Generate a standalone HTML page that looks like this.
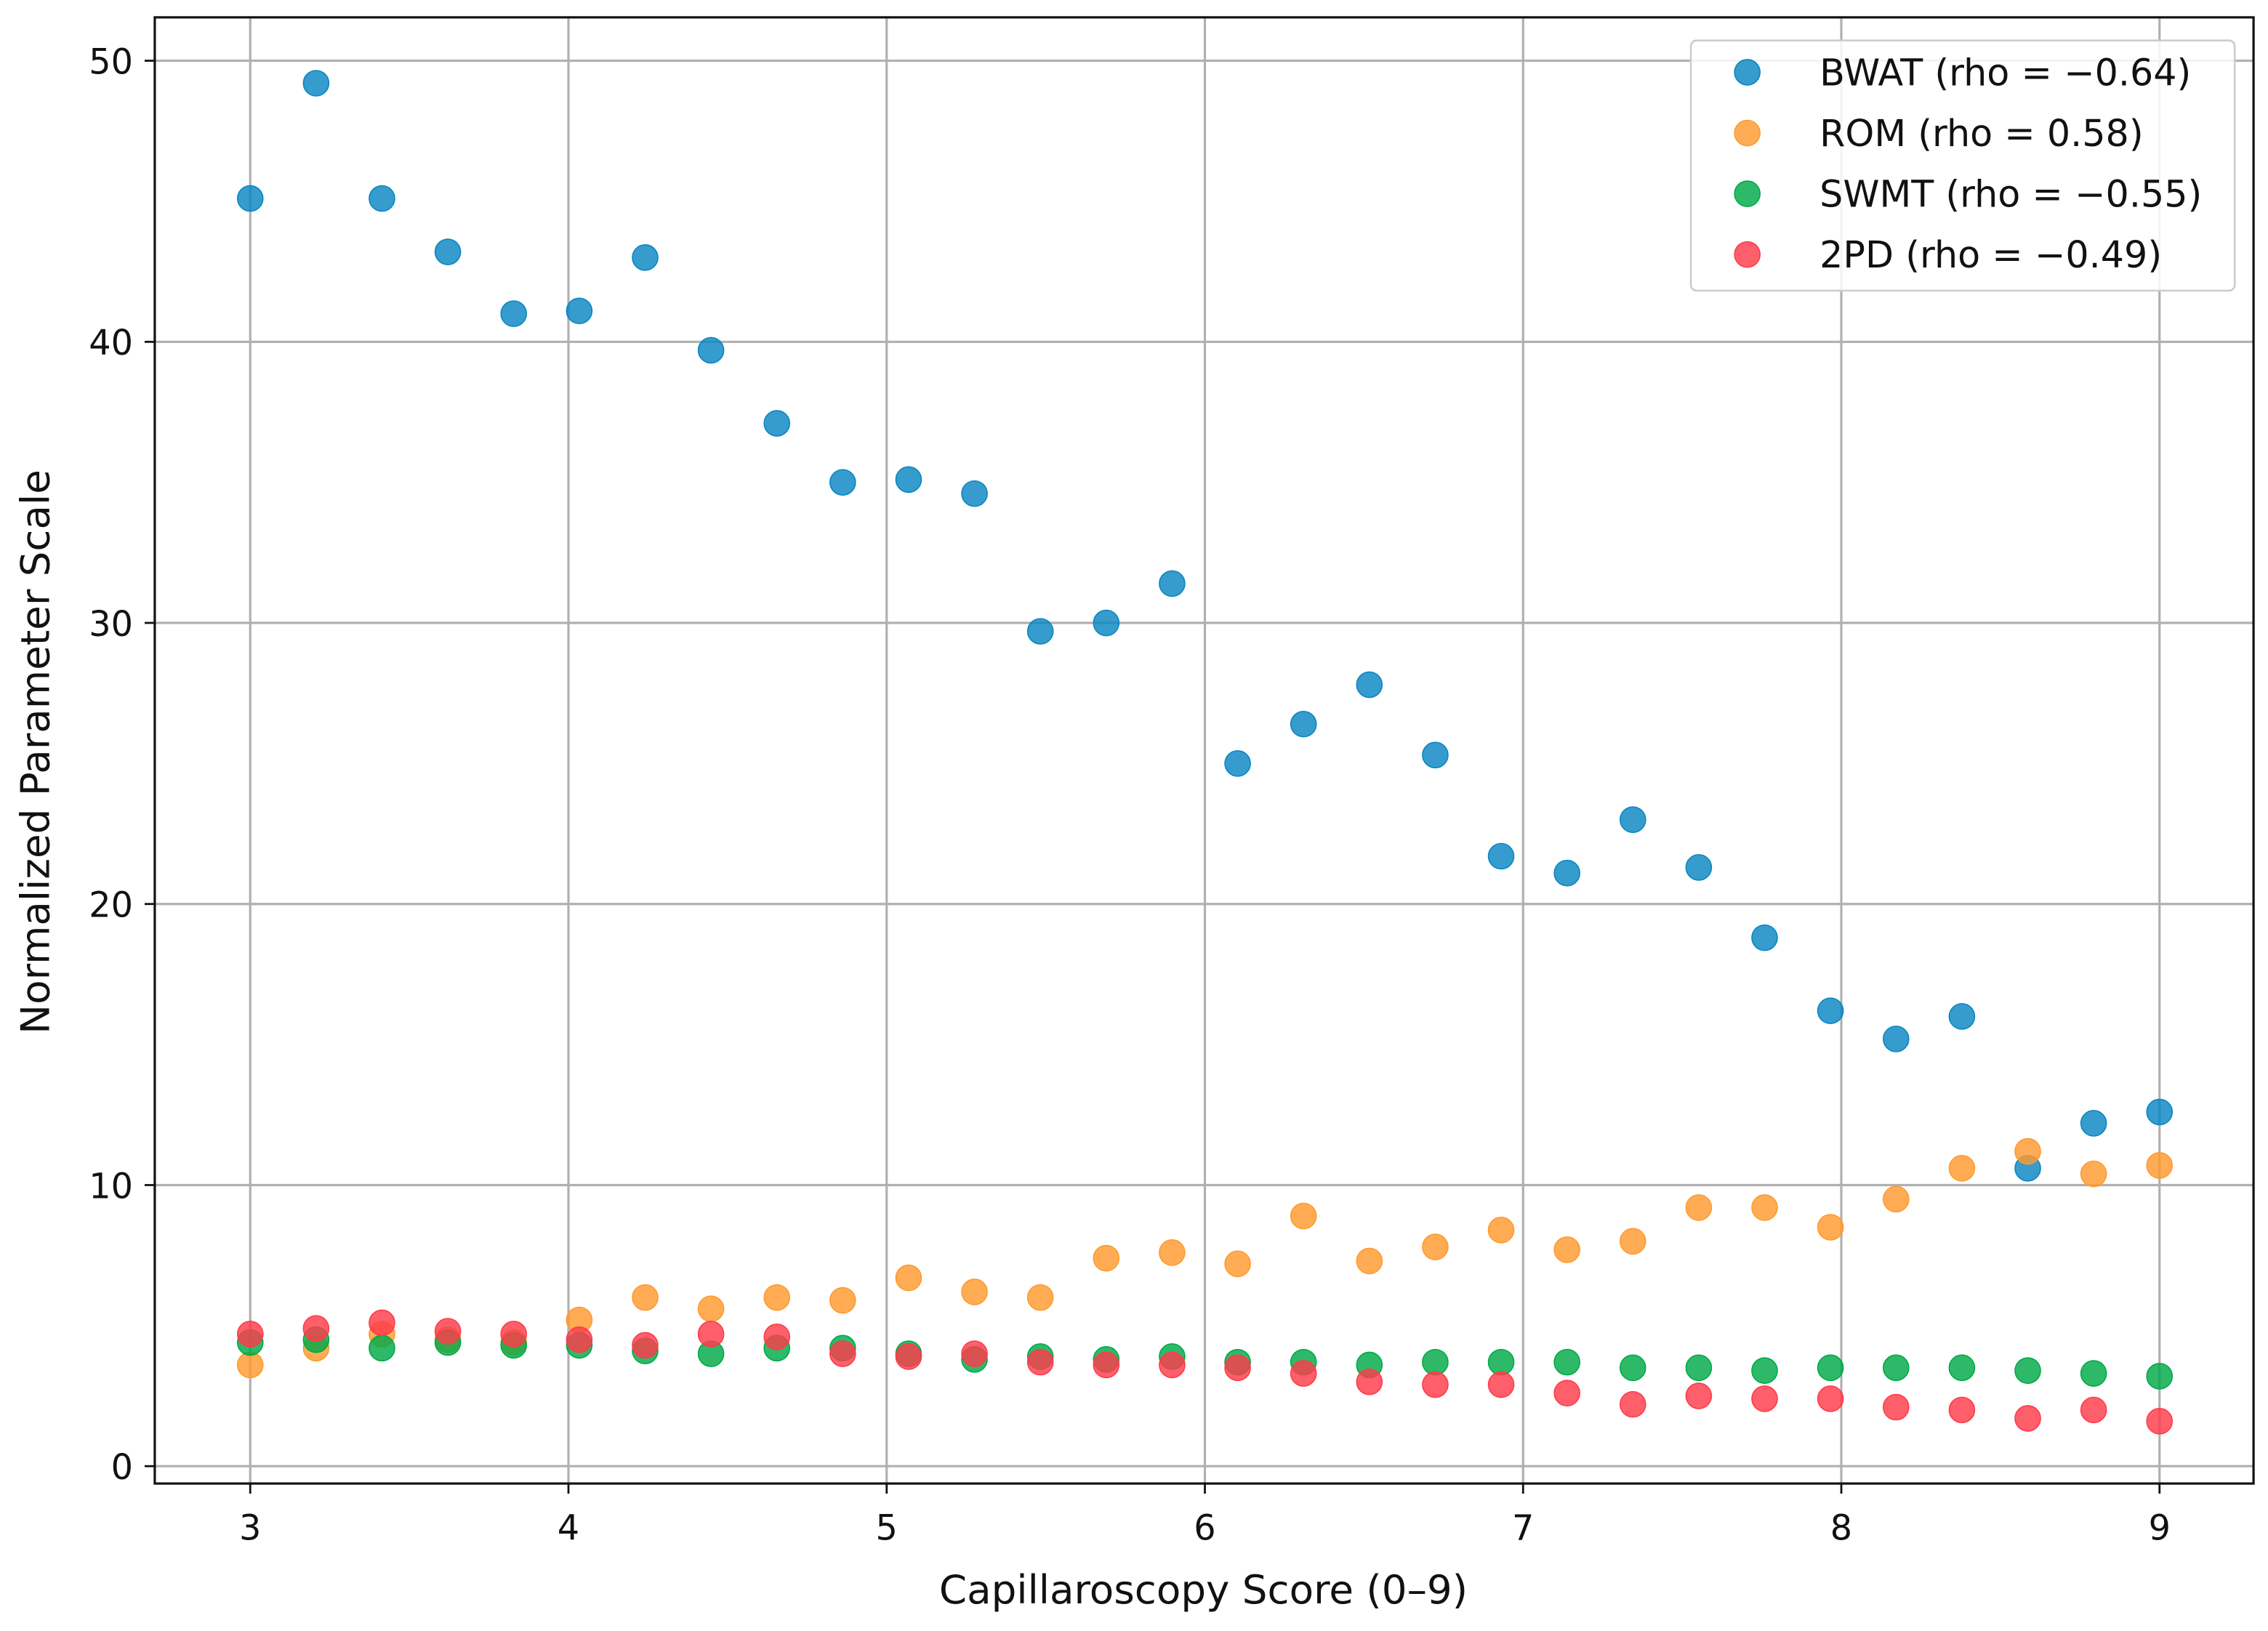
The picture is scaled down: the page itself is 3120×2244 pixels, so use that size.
<!DOCTYPE html>
<html><head><meta charset="utf-8"><style>
html,body{margin:0;padding:0;background:#fff}
svg{display:block}
text{font-family:"DejaVu Sans","Liberation Sans",sans-serif;fill:#111}
</style></head><body>
<svg id="chart" width="3120" height="2244" viewBox="0 0 1568 1128" preserveAspectRatio="none" xmlns="http://www.w3.org/2000/svg">
<rect x="0" y="0" width="1568" height="1128" fill="#fff"/>
<g id="grid"></g>
<g id="marks"></g>
<rect x="107" y="12" width="1451" height="1014" fill="none" stroke="#111" stroke-width="1.6"/>
<g id="ticks"></g>
<text x="832" y="1109" font-size="27.5" text-anchor="middle">Capillaroscopy Score (0–9)</text>
<text transform="translate(34,520) rotate(-90)" font-size="27.5" text-anchor="middle">Normalized Parameter Scale</text>
<g id="legend">
<rect x="1169" y="28" width="376" height="173" rx="4" fill="#fff" fill-opacity="0.85" stroke="#ccc" stroke-width="1.3"/>
</g>
</svg>
<script>
const xVals=[3.000,3.207,3.414,3.621,3.828,4.034,4.241,4.448,4.655,4.862,5.069,5.276,5.483,5.690,5.897,6.103,6.310,6.517,6.724,6.931,7.138,7.345,7.552,7.759,7.966,8.172,8.379,8.586,8.793,9.000];
const bwat=[45.1,49.2,45.1,43.2,41.0,41.1,43.0,39.7,37.1,35.0,35.1,34.6,29.7,30.0,31.4,25.0,26.4,27.8,25.3,21.7,21.1,23.0,21.3,18.8,16.2,15.2,16.0,10.6,12.2,12.6];
const rom=[3.6,4.2,4.7,4.5,4.4,5.2,6.0,5.6,6.0,5.9,6.7,6.2,6.0,7.4,7.6,7.2,8.9,7.3,7.8,8.4,7.7,8.0,9.2,9.2,8.5,9.5,10.6,11.2,10.4,10.7];
const swmt=[4.4,4.5,4.2,4.4,4.3,4.3,4.1,4.0,4.2,4.2,4.0,3.8,3.9,3.8,3.9,3.7,3.7,3.6,3.7,3.7,3.7,3.5,3.5,3.4,3.5,3.5,3.5,3.4,3.3,3.2];
const tpd=[4.7,4.9,5.1,4.8,4.7,4.5,4.3,4.7,4.6,4.0,3.9,4.0,3.7,3.6,3.6,3.5,3.3,3.0,2.9,2.9,2.6,2.2,2.5,2.4,2.4,2.1,2.0,1.7,2.0,1.6];
const xTicks=[3,4,5,6,7,8,9];
const yTicks=[0,10,20,30,40,50];
const seriesNames=["BWAT (rho = −0.64)","ROM (rho = 0.58)","SWMT (rho = −0.55)","2PD (rho = −0.49)"];
const NS="http://www.w3.org/2000/svg";
function xs(v){return 173+(v-3)*220;}
function ys(v){return 1014-v*19.44;}
function mk(tag,attrs,parent){const e=document.createElementNS(NS,tag);for(const k in attrs)e.setAttribute(k,attrs[k]);parent.appendChild(e);return e;}
const grid=document.getElementById('grid'),ticks=document.getElementById('ticks'),marks=document.getElementById('marks'),legend=document.getElementById('legend');
xTicks.forEach(t=>{
 const l=mk('line',{x1:xs(t),x2:xs(t),y1:12,y2:1026,stroke:'#b0b0b0','stroke-width':1.6},grid);
 
 
 mk('line',{x1:xs(t),x2:xs(t),y1:1026,y2:1033,stroke:'#111','stroke-width':1.4},ticks);
 const tx=mk('text',{x:xs(t),y:1065,'font-size':24,'text-anchor':'middle'},ticks);tx.textContent=t;
 
 
});
yTicks.forEach(t=>{
 const l=mk('line',{x1:107,x2:1558,y1:ys(t),y2:ys(t),stroke:'#b0b0b0','stroke-width':1.6},grid);
 
 
 mk('line',{x1:100,x2:107,y1:ys(t),y2:ys(t),stroke:'#111','stroke-width':1.4},ticks);
 const tx=mk('text',{x:92,y:ys(t)+9,'font-size':24,'text-anchor':'end'},ticks);tx.textContent=t;
 
 
});
const series=[[bwat,'#0a86c2','bwat-point'],[rom,'#ff9a2e','rom-point'],[swmt,'#00aa48','swmt-point'],[tpd,'#ff3b4a','2pd-point']];
series.forEach(([vals,col,name])=>{
 vals.forEach((v,i)=>{
  const c=mk('circle',{cx:xs(xVals[i]),cy:ys(v),r:8.8,fill:col,'fill-opacity':0.82,stroke:col,'stroke-width':0.8},marks);
  
  
 });
});
series.forEach(([vals,col],i)=>{
 const y=50+i*42;
 const c=mk('circle',{cx:1208,cy:y,r:8.8,fill:col,'fill-opacity':0.82,stroke:col,'stroke-width':0.8},legend);
 
 
 const t=mk('text',{x:1258,y:y+9,'font-size':25.5},legend);t.textContent=seriesNames[i];
 
 
});
</script>
</body></html>
